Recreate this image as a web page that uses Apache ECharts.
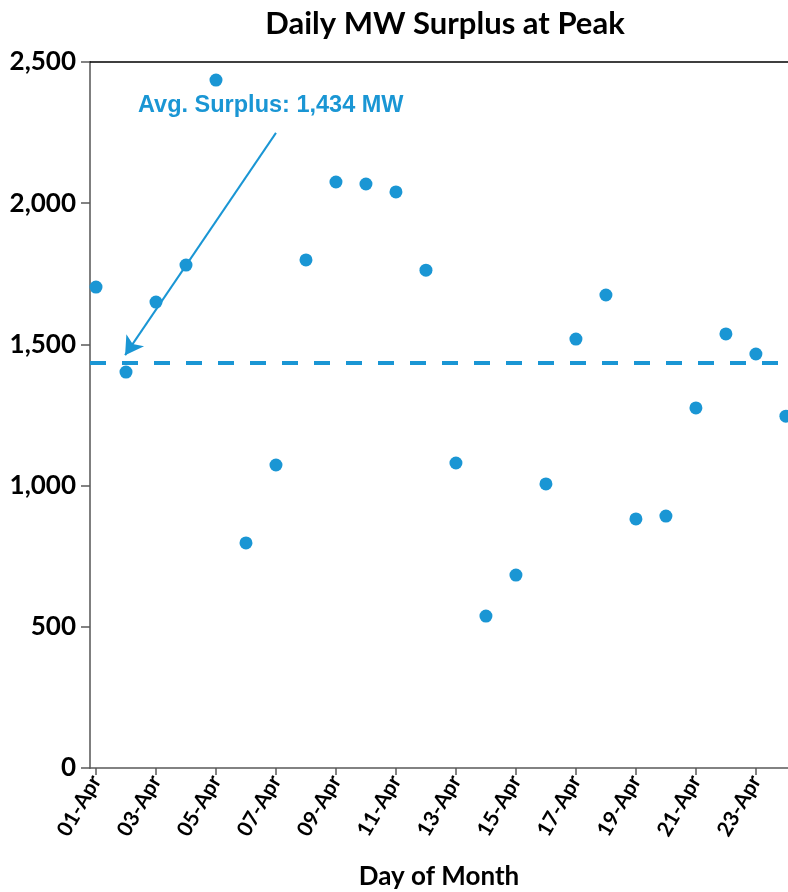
<!DOCTYPE html>
<html><head><meta charset="utf-8">
<script src="https://cdn.jsdelivr.net/npm/echarts@6/dist/echarts.min.js"></script>
<style>html,body{margin:0;padding:0;background:#fff}#c{width:788px;height:892px}</style>
</head><body><div id="c"></div>
<script>
const days = ['01-Apr','02-Apr','03-Apr','04-Apr','05-Apr','06-Apr','07-Apr','08-Apr','09-Apr','10-Apr','11-Apr','12-Apr','13-Apr','14-Apr','15-Apr','16-Apr','17-Apr','18-Apr','19-Apr','20-Apr','21-Apr','22-Apr','23-Apr','24-Apr'];
const surplus = [1703,1402,1650,1781,2436,797,1073,1799,2075,2068,2040,1763,1080,538,683,1006,1519,1675,882,892,1275,1537,1466,1246];
const avgSurplus = 1434;
const labelIdx = [0,2,4,6,8,10,12,14,16,18,20,22];
const yTicks = [0,500,1000,1500,2000,2500];
const annotationText = 'Avg. Surplus: 1,434 MW';

const blue = '#1a96d4';
const font = 'Lato';
const chart = echarts.init(document.getElementById('c'));
chart.setOption({
  animation:false,
  title:{text:'Daily MW Surplus at Peak',left:440,textAlign:'center',top:3,
    textStyle:{fontFamily:font,fontWeight:'bold',fontSize:31,color:'#000'}},
  grid:{left:90,right:0,top:62,bottom:124,containLabel:false,outerBoundsMode:'none'},
  xAxis:[{
    type:'value',min:-0.2,max:23.07,
    name:'Day of Month',nameLocation:'middle',nameGap:96,
    nameTextStyle:{fontFamily:font,fontSize:26,fontWeight:'bold',color:'#000'},
    axisLine:{show:true,onZero:false,lineStyle:{color:'#595959',width:1.5}},
    axisTick:{show:true,length:7,customValues:labelIdx,lineStyle:{color:'#595959',width:1.5}},
    axisLabel:{customValues:labelIdx,rotate:60,margin:9,fontFamily:font,fontSize:21,fontWeight:'bold',color:'#000',
      formatter:v=>days[Math.round(v)]},
    splitLine:{show:false}
  },{
    type:'value',position:'top',min:-0.2,max:23.07,
    axisLine:{show:true,onZero:false,lineStyle:{color:'#000',width:1.5}},
    axisTick:{show:false},axisLabel:{show:false},splitLine:{show:false}
  }],
  yAxis:{
    type:'value',min:0,max:2500,interval:500,
    axisLine:{show:true,onZero:false,lineStyle:{color:'#7f7f7f',width:2}},
    axisTick:{show:true,length:9,lineStyle:{color:'#595959',width:1.5}},
    axisLabel:{margin:14,fontFamily:font,fontSize:26,fontWeight:'bold',color:'#000',
      formatter:v=>v.toLocaleString('en-US')},
    splitLine:{show:false}
  },
  series:[{
    type:'scatter',
    data:surplus.map((v,i)=>[i,v]),
    symbolSize:13,
    itemStyle:{color:blue,opacity:1},
    markLine:{
      silent:true,
      data:[
        [{coord:[-0.2,avgSurplus],symbol:'none',lineStyle:{type:[16,16],width:4,color:blue}},
         {coord:[23.07,avgSurplus],symbol:'none'}],
        [{coord:[6.0,2249],symbol:'none',lineStyle:{type:'solid',width:2,color:blue}},
         {coord:[0.97,1462],symbol:'arrow',symbolSize:[16,18]}]
      ],
      label:{show:false}
    },
    markPoint:{
      silent:true,
      symbol:'circle',symbolSize:0,
      data:[{coord:[1.4,2347],label:{show:true,position:'right',distance:0,formatter:annotationText,
        fontFamily:'Liberation Sans',fontWeight:'bold',fontSize:23.5,color:blue}}]
    }
  }]
});
</script></body></html>
